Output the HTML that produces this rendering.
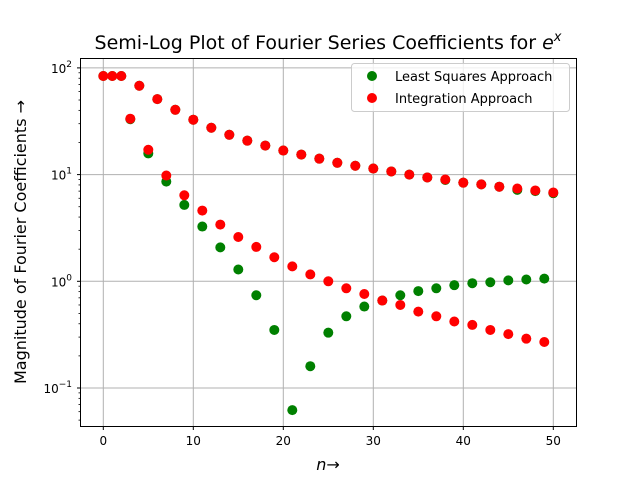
<!DOCTYPE html>
<html><head><meta charset="utf-8"><style>
body{margin:0;background:#fff}
svg{display:block;font-family:"DejaVu Sans","Liberation Sans",sans-serif}
</style></head><body>
<svg id="chart" width="640" height="480">
<text x="328" y="49" text-anchor="middle" font-size="19">Semi-Log Plot of Fourier Series Coefficients for <tspan font-style="italic">e</tspan><tspan font-style="italic" font-size="13" dy="-8">x</tspan></text>
<text x="328" y="470" text-anchor="middle" font-size="16"><tspan font-style="italic">n</tspan>→</text>
<text transform="translate(26,242) rotate(-90)" text-anchor="middle" font-size="16">Magnitude of Fourier Coefficients →</text>
<g id="grid"></g><g id="ticks"></g><g id="marks"></g>
<rect x="80.5" y="58.5" width="496" height="368" fill="none" stroke="#000" stroke-width="1"/>
<g>
<rect x="351.5" y="63.5" width="218" height="48" fill="#fff" fill-opacity="0.8" stroke="#ccc" rx="3"/>
<circle cx="372" cy="76" r="5" fill="green"/>
<text x="395" y="81" font-size="13">Least Squares Approach</text>
<circle cx="372" cy="98" r="5" fill="red"/>
<text x="395" y="103" font-size="13">Integration Approach</text>
</g>
</svg>
<script>
const xTicks=[0,10,20,30,40,50];
const yTickExps=[-1,0,1,2];
const nValues=[];for(let i=0;i<=50;i++)nValues.push(i);
const leastSquares=[84,84,84,33,68,15.8,51,8.6,40.5,5.2,32.7,3.26,27.5,2.08,23.6,1.29,20.8,0.74,18.7,0.35,16.8,0.062,15.4,0.16,14.1,0.33,12.9,0.47,12.1,0.58,11.4,0.66,10.7,0.74,10,0.81,9.4,0.86,8.9,0.92,8.4,0.96,8.1,0.98,7.7,1.02,7.2,1.04,7.0,1.06,6.7];
const integration=[84,84,84,33.4,68,17.1,51,9.8,40.5,6.4,32.7,4.6,27.5,3.4,23.6,2.6,20.8,2.1,18.7,1.68,16.8,1.38,15.4,1.16,14.1,1.0,12.9,0.86,12.1,0.76,11.4,0.66,10.7,0.6,10,0.52,9.4,0.47,9.0,0.42,8.4,0.39,8.1,0.35,7.7,0.32,7.4,0.29,7.1,0.27,6.8];
const NS='http://www.w3.org/2000/svg';
const X=v=>103.3+v*9.0;
const Y=v=>281.3-Math.log10(v)*106.7;
function mk(t,a,p){const e=document.createElementNS(NS,t);for(const k in a)e.setAttribute(k,a[k]);p.appendChild(e);return e;}
const grid=document.getElementById('grid'),ticks=document.getElementById('ticks'),marks=document.getElementById('marks');
xTicks.forEach(t=>{const x=X(t);
const g=mk('line',{x1:x,x2:x,y1:58.5,y2:426.5,stroke:'#b0b0b0','stroke-width':1},grid);


mk('line',{x1:x,x2:x,y1:426.5,y2:430,stroke:'#000'},ticks);
const l=mk('text',{x:x,y:445,'text-anchor':'middle','font-size':12},ticks);l.textContent=t;

});
yTickExps.forEach(e=>{const y=Y(Math.pow(10,e));
const g=mk('line',{x1:80.5,x2:576.5,y1:y,y2:y,stroke:'#b0b0b0','stroke-width':1},grid);


mk('line',{x1:77,x2:80.5,y1:y,y2:y,stroke:'#000'},ticks);
const l=mk('text',{x:72,y:y+5,'text-anchor':'end','font-size':12},ticks);
l.innerHTML='10<tspan font-size="9" dy="-6">'+(e<0?'−'+(-e):e)+'</tspan>';

});
for(let d=-2;d<=1;d++)for(let m=2;m<=9;m++){const v=m*Math.pow(10,d);const y=Y(v);if(y<58.5||y>426.5)continue;
mk('line',{x1:78.5,x2:80.5,y1:y,y2:y,stroke:'#000','stroke-width':0.8},ticks);}
leastSquares.forEach((v,i)=>{const c=mk('circle',{cx:X(nValues[i]),cy:Y(v),r:5,fill:'green'},marks);

});
integration.forEach((v,i)=>{const c=mk('circle',{cx:X(nValues[i]),cy:Y(v),r:5,fill:'red'},marks);

});
</script>
</body></html>
